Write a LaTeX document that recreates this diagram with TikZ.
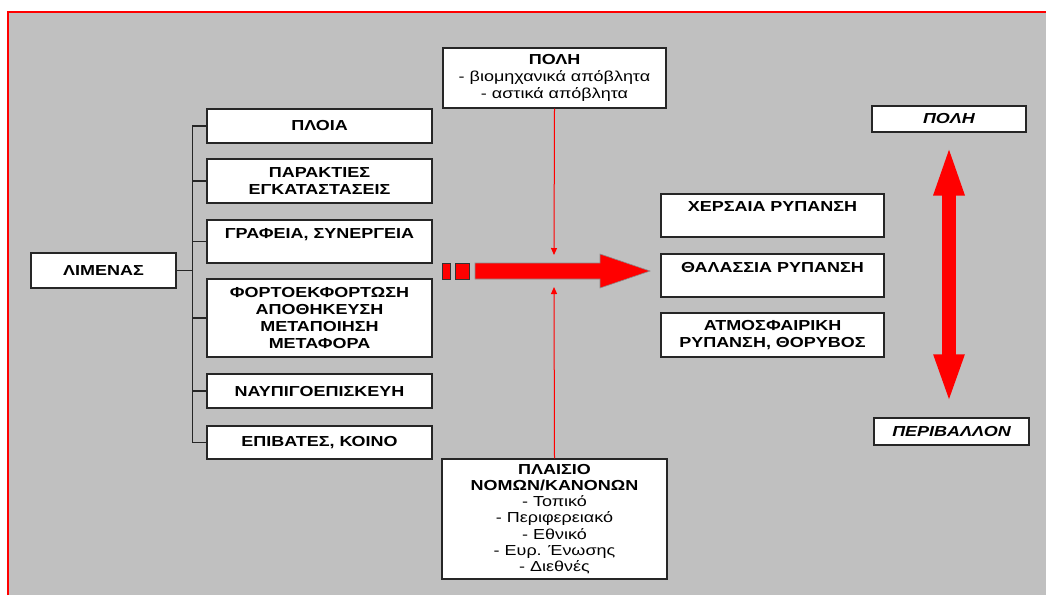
\documentclass[tikz,border=0pt]{standalone}
\usepackage{fontspec}
\setmainfont{Liberation Sans}
\newfontfamily\widefont[FakeStretch=1.24]{Liberation Sans}
\usepackage{tikz}
\usetikzlibrary{arrows.meta}
\definecolor{bggray}{RGB}{192,192,192}
\definecolor{pred}{RGB}{255,0,0}
\newcommand\boxfont{\widefont\fontsize{14.5}{17}\selectfont}
\tikzstyle{box}=[draw=black!85,line width=1.2pt,fill=white,align=center,inner sep=2pt,font=\boxfont\bfseries]
\tikzstyle{lbox}=[box,minimum width=225pt]
\tikzstyle{rbox}=[box,minimum width=223pt]
\tikzstyle{ibox}=[box,font=\boxfont\bfseries\itshape]
\tikzstyle{tbox}=[box,font=\boxfont]
\tikzstyle{tree}=[line width=1.2pt,draw=black!85]
\tikzstyle{feed}=[line width=1pt,draw=pred,-{Triangle[length=7pt,width=6pt]}]
\tikzstyle{bigarrow}=[fill=pred,draw=black!45,line width=.6pt]
\tikzstyle{dblarrow}=[line width=14pt,draw=pred,{Triangle[length=52pt,width=27pt]}-{Triangle[length=50pt,width=27pt]}]

\begin{document}
\begin{tikzpicture}[x=1pt,y=-1pt]
	\useasboundingbox (0,0) rectangle (1046,595);
	\fill[bggray] (8,12) rectangle (1046,595);
	\draw[pred,line width=1.5pt] (8,595) -- (8,12) -- (1046,12);

	\node[box,minimum width=145pt,minimum height=35pt] (limenas) at (103.5,270.5) {ΛΙΜΕΝΑΣ};
	\node[lbox,minimum height=34pt] (ploia) at (319.5,126) {ΠΛΟΙΑ};
	\node[lbox,minimum height=44pt] (paraktia) at (319.5,181) {ΠΑΡΑΚΤΙΕΣ\\ΕΓΚΑΤΑΣΤΑΣΕΙΣ};
	\node[lbox,minimum height=43pt] (grafeia) at (319.5,241.5) {ΓΡΑΦΕΙΑ, ΣΥΝΕΡΓΕΙΑ\\~};
	\node[lbox,minimum height=78pt] (fortosi) at (319.5,318) {ΦΟΡΤΟΕΚΦΟΡΤΩΣΗ\\ΑΠΟΘΗΚΕΥΣΗ\\ΜΕΤΑΠΟΙΗΣΗ\\ΜΕΤΑΦΟΡΑ};
	\node[lbox,minimum height=34pt] (nafpigo) at (319.5,391) {ΝΑΥΠΙΓΟΕΠΙΣΚΕΥΗ};
	\node[lbox,minimum height=33pt] (epivates) at (319.5,442.5) {ΕΠΙΒΑΤΕΣ, ΚΟΙΝΟ};

	\draw[tree] (limenas.east) -- ++(16,0) |- (ploia.west);
	\draw[tree] (limenas.east) -- ++(16,0) |- (paraktia.west);
	\draw[tree] (limenas.east) -- ++(16,0) |- (grafeia.west);
	\draw[tree] (limenas.east) -- ++(16,0) |- (fortosi.west);
	\draw[tree] (limenas.east) -- ++(16,0) |- (nafpigo.west);
	\draw[tree] (limenas.east) -- ++(16,0) |- (epivates.west);

	\node[tbox,minimum width=223pt,minimum height=60pt] (poli) at (554.5,78) {\textbf{ΠΟΛΗ}\\- βιομηχανικά απόβλητα\\- αστικά απόβλητα};
	\node[tbox,minimum width=225pt,minimum height=120pt,font=\widefont\fontsize{14.5}{16.2}\selectfont] (plaisio) at (554.5,519) {\textbf{ΠΛΑΙΣΙΟ}\\\textbf{ΝΟΜΩΝ/ΚΑΝΟΝΩΝ}\\- Τοπικό\\- Περιφερειακό\\- Εθνικό\\- Ευρ. Ένωσης\\- Διεθνές};
	\coordinate (polito) at (554,255);
	\coordinate (plaisioto) at (554,287);
	\draw[feed] (poli.south) -- (polito);
	\draw[feed] (plaisio.north) -- (plaisioto);

	% striped arrow towards the pollution boxes
	\filldraw[bigarrow,draw=black!80] (442,263) rectangle (450,279);
	\filldraw[bigarrow,draw=black!80] (455,263) rectangle (469,279);
	\filldraw[bigarrow] (475,263) -- (600,263) -- (600,254) -- (650,271) -- (600,288) -- (600,279) -- (475,279) -- cycle;

	\node[rbox,minimum height=43pt] (xersaia) at (772.5,215.5) {ΧΕΡΣΑΙΑ ΡΥΠΑΝΣΗ\\~};
	\node[rbox,minimum height=43pt] (thalassia) at (772.5,275.5) {ΘΑΛΑΣΣΙΑ ΡΥΠΑΝΣΗ\\~};
	\node[rbox,minimum height=44pt] (atmosfaira) at (772.5,335) {ΑΤΜΟΣΦΑΙΡΙΚΗ\\ΡΥΠΑΝΣΗ, ΘΟΡΥΒΟΣ};

	\node[ibox,minimum width=154pt,minimum height=26pt] (poli2) at (949,119) {ΠΟΛΗ};
	\node[ibox,minimum width=155pt,minimum height=27pt] (perivallon) at (951.5,431.5) {ΠΕΡΙΒΑΛΛΟΝ};
	\draw[dblarrow,shorten <=11pt,shorten >=13pt] (poli2.south) -- (poli2.south |- perivallon.north);
\end{tikzpicture}
\end{document}
